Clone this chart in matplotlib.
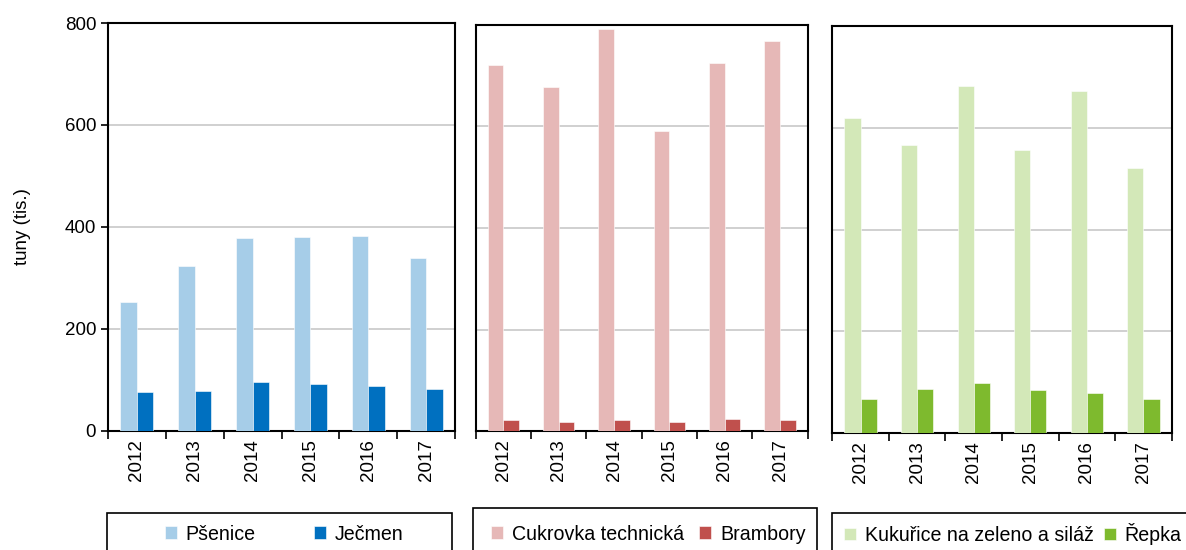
import matplotlib.pyplot as plt
import matplotlib.patches as mpatches
import numpy as np

plt.rcParams['font.family'] = ['Liberation Sans', 'DejaVu Sans']

years = ['2012', '2013', '2014', '2015', '2016', '2017']

psenice = [252, 324, 379, 381, 383, 339]
jecmen = [75, 78, 96, 92, 87, 81]

cukrovka = [722, 677, 792, 591, 725, 768]
brambory = [22, 17, 22, 18, 24, 22]

kukurice = [619, 567, 683, 557, 673, 522]
repka = [67, 86, 98, 84, 79, 67]

panels = [
    (psenice, jecmen, 'Pšenice', 'Ječmen', '#A6CDE8', '#0070C0'),
    (cukrovka, brambory, 'Cukrovka technická', 'Brambory', '#E6B8B7', '#C0504D'),
    (kukurice, repka, 'Kukuřice na zeleno a siláž', 'Řepka', '#D3E8B8', '#7EBA2E'),
]

W, H = 1186, 550
fig = plt.figure(figsize=(W / 100, H / 100), dpi=100)

# axes boxes in pixels: left, right, top, bottom
ax_px = [(108, 455, 23, 430.7), (475.7, 807.7, 25, 431), (832.3, 1171.7, 26, 433.2)]
# legend boxes: left, right, top ; first patch x ; columnspacing
leg_px = [(107, 452, 513, 165, 3.0), (473, 817, 508, 491, 0.8), (832, 1195, 513, 844, 0.55)]

fs = 13.5
x = np.arange(len(years))
bw = 0.285

for i, (a, b, la, lb, ca, cb) in enumerate(panels):
    l, r, t, bt = ax_px[i]
    ax = fig.add_axes([l / W, 1 - bt / H, (r - l) / W, (bt - t) / H])
    ha = ax.bar(x - bw / 2, a, bw, color=ca, edgecolor='white', linewidth=0.4, zorder=3)
    hb = ax.bar(x + bw / 2, b, bw, color=cb, edgecolor='white', linewidth=0.4, zorder=3)
    ax.set_xlim(-0.5, len(years) - 0.5)
    ax.set_ylim(0, 800)
    ax.set_yticks([0, 200, 400, 600, 800])
    ax.yaxis.grid(True, color='#C8C8C8', linewidth=1.2, zorder=0)
    ax.set_axisbelow(True)
    for s in ax.spines.values():
        s.set_linewidth(1.5)
        s.set_color('black')
    ax.set_xticks(x)
    ax.set_xticklabels(years, rotation=90, fontsize=fs)
    ax.tick_params(axis='x', length=0, pad=6)
    ax.set_xticks(np.arange(-0.5, len(years)), minor=True)
    ax.tick_params(axis='x', which='minor', length=6, width=1.2, direction='out')
    if i == 0:
        ax.tick_params(axis='y', labelsize=fs, length=5, width=1.2, direction='out')
        ax.set_ylabel('tuny (tis.)', fontsize=13.5, labelpad=24)
    else:
        ax.tick_params(axis='y', left=False, labelleft=False)

    # legend frame below the panel
    ll, lr, lt, px0, cs = leg_px[i]
    fig.patches.append(mpatches.Rectangle((ll / W, 1 - 560 / H), (lr - ll) / W, (560 - lt) / H,
                                          transform=fig.transFigure, fill=False,
                                          edgecolor='black', linewidth=1.2))
    fig.legend([ha, hb], [la, lb], loc='center left', bbox_to_anchor=(px0 / W, 1 - 534 / H),
               ncol=2, frameon=False, fontsize=14.1, handlelength=0.6, handleheight=0.6,
               handletextpad=0.45, columnspacing=cs, borderpad=0, borderaxespad=0)

fig.savefig('out.png', dpi=100)
